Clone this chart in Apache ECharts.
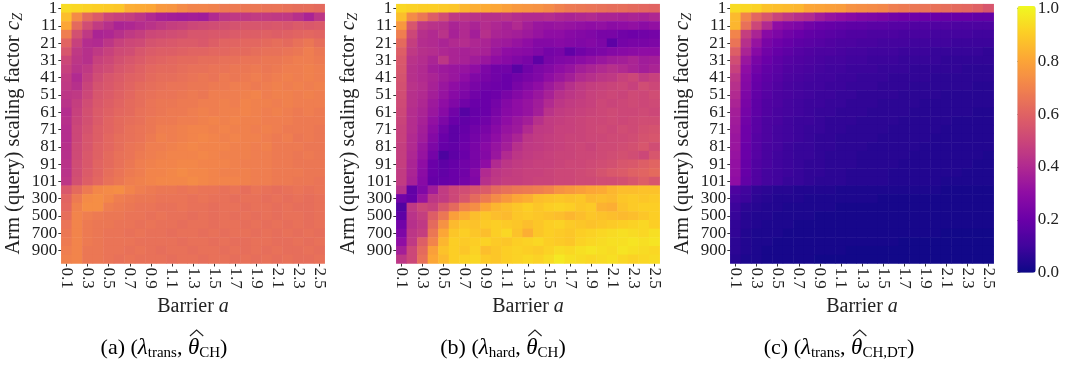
<!DOCTYPE html>
<html><head><meta charset="utf-8">
<script src="https://cdn.jsdelivr.net/npm/echarts@6/dist/echarts.min.js"></script>
<style>html,body{margin:0;padding:0;background:#fff}#c{width:1068px;height:370px}</style>
</head><body><div id="c"></div>
<script>
const barrierLabels = ['0.1','0.2','0.3','0.4','0.5','0.6','0.7','0.8','0.9','1.0','1.1','1.2','1.3','1.4','1.5','1.6','1.7','1.8','1.9','2.0','2.1','2.2','2.3','2.4','2.5'];
const armLabels = ['1','6','11','16','21','26','31','36','41','46','51','56','61','66','71','76','81','86','91','96','101','200','300','400','500','600','700','800','900','1000'];
const colorbarTicks = [0, 0.2, 0.4, 0.6, 0.8, 1.0];
const plasma = ['#0d0887','#41049d','#6a00a8','#8f0da4','#b12a90','#cc4778','#e16462','#f2844b','#fca636','#fcce25','#f0f921'];
const captionParts = [
  [['r','(a) ('],['m','λ'],['s','trans'],['r',', '],['h','θ'],['s','CH'],['r',')']],
  [['r','(b) ('],['m','λ'],['s','hard'],['r',', '],['h','θ'],['s','CH'],['r',')']],
  [['r','(c) ('],['m','λ'],['s','trans'],['r',', '],['h','θ'],['s','CH,DT'],['r',')']]
];

const panelA = [
[0.93,0.92,0.91,0.90,0.89,0.88,0.82,0.81,0.80,0.76,0.75,0.72,0.70,0.70,0.69,0.67,0.67,0.66,0.66,0.65,0.65,0.64,0.63,0.63,0.62],
[0.86,0.72,0.62,0.57,0.50,0.48,0.47,0.44,0.40,0.37,0.36,0.35,0.36,0.35,0.40,0.44,0.45,0.45,0.46,0.46,0.45,0.45,0.42,0.38,0.44],
[0.80,0.62,0.52,0.46,0.42,0.38,0.39,0.41,0.43,0.45,0.47,0.48,0.50,0.51,0.52,0.53,0.54,0.55,0.55,0.55,0.56,0.55,0.57,0.56,0.57],
[0.68,0.53,0.45,0.38,0.39,0.42,0.45,0.47,0.50,0.51,0.52,0.53,0.55,0.55,0.56,0.56,0.57,0.58,0.58,0.59,0.58,0.59,0.60,0.61,0.60],
[0.60,0.48,0.41,0.40,0.44,0.48,0.50,0.51,0.54,0.55,0.56,0.57,0.57,0.56,0.58,0.60,0.60,0.61,0.61,0.62,0.63,0.62,0.64,0.66,0.63],
[0.55,0.45,0.42,0.45,0.48,0.51,0.52,0.55,0.57,0.58,0.58,0.59,0.60,0.60,0.61,0.61,0.62,0.62,0.63,0.64,0.64,0.65,0.66,0.68,0.66],
[0.50,0.44,0.42,0.48,0.50,0.53,0.55,0.57,0.59,0.60,0.61,0.62,0.62,0.63,0.63,0.64,0.64,0.65,0.65,0.66,0.66,0.67,0.68,0.68,0.67],
[0.48,0.43,0.45,0.50,0.52,0.55,0.57,0.59,0.61,0.62,0.62,0.63,0.64,0.64,0.65,0.65,0.66,0.66,0.67,0.66,0.67,0.68,0.68,0.69,0.68],
[0.46,0.40,0.47,0.52,0.55,0.57,0.59,0.60,0.62,0.63,0.63,0.64,0.65,0.66,0.65,0.67,0.66,0.67,0.68,0.67,0.68,0.69,0.68,0.69,0.68],
[0.45,0.42,0.49,0.54,0.56,0.58,0.60,0.62,0.63,0.64,0.65,0.65,0.66,0.66,0.67,0.67,0.68,0.68,0.67,0.68,0.69,0.68,0.69,0.68,0.69],
[0.44,0.45,0.50,0.55,0.57,0.59,0.61,0.63,0.64,0.65,0.65,0.66,0.67,0.66,0.68,0.68,0.68,0.69,0.70,0.68,0.69,0.69,0.68,0.69,0.68],
[0.43,0.47,0.52,0.56,0.58,0.60,0.62,0.63,0.65,0.66,0.66,0.67,0.67,0.68,0.68,0.69,0.68,0.70,0.69,0.69,0.68,0.69,0.68,0.68,0.68],
[0.41,0.48,0.53,0.57,0.59,0.61,0.62,0.64,0.65,0.66,0.67,0.67,0.68,0.69,0.68,0.69,0.69,0.70,0.69,0.68,0.69,0.68,0.67,0.68,0.67],
[0.42,0.49,0.53,0.57,0.60,0.62,0.63,0.64,0.66,0.67,0.67,0.68,0.68,0.69,0.70,0.69,0.70,0.69,0.69,0.68,0.68,0.68,0.67,0.67,0.67],
[0.41,0.50,0.54,0.58,0.60,0.62,0.64,0.65,0.66,0.68,0.68,0.69,0.70,0.70,0.69,0.70,0.69,0.69,0.68,0.69,0.68,0.67,0.67,0.67,0.66],
[0.41,0.50,0.55,0.58,0.61,0.63,0.64,0.65,0.67,0.69,0.68,0.69,0.70,0.71,0.70,0.69,0.70,0.69,0.69,0.68,0.67,0.68,0.66,0.67,0.66],
[0.42,0.51,0.55,0.59,0.61,0.63,0.65,0.66,0.68,0.68,0.69,0.70,0.71,0.70,0.70,0.70,0.69,0.69,0.68,0.69,0.67,0.67,0.67,0.66,0.66],
[0.42,0.51,0.56,0.59,0.62,0.64,0.65,0.67,0.68,0.69,0.70,0.70,0.70,0.71,0.70,0.69,0.69,0.69,0.68,0.68,0.67,0.67,0.66,0.67,0.66],
[0.43,0.52,0.56,0.60,0.62,0.64,0.66,0.68,0.69,0.70,0.70,0.71,0.71,0.70,0.70,0.70,0.69,0.68,0.68,0.68,0.67,0.67,0.66,0.66,0.66],
[0.43,0.52,0.57,0.60,0.63,0.65,0.67,0.68,0.70,0.70,0.71,0.72,0.71,0.71,0.70,0.69,0.69,0.69,0.68,0.68,0.67,0.67,0.67,0.66,0.66],
[0.44,0.53,0.58,0.61,0.64,0.66,0.68,0.69,0.70,0.71,0.71,0.71,0.72,0.71,0.70,0.70,0.70,0.69,0.68,0.68,0.67,0.67,0.66,0.66,0.65],
[0.56,0.62,0.67,0.71,0.72,0.73,0.70,0.68,0.67,0.66,0.66,0.65,0.66,0.65,0.65,0.64,0.65,0.63,0.65,0.64,0.63,0.64,0.65,0.64,0.65],
[0.60,0.67,0.72,0.73,0.71,0.68,0.67,0.66,0.66,0.65,0.65,0.65,0.64,0.65,0.64,0.64,0.63,0.64,0.64,0.63,0.64,0.63,0.64,0.63,0.64],
[0.61,0.69,0.73,0.73,0.68,0.67,0.66,0.65,0.65,0.64,0.64,0.65,0.64,0.64,0.63,0.64,0.64,0.63,0.64,0.64,0.63,0.64,0.63,0.63,0.64],
[0.63,0.70,0.68,0.67,0.66,0.66,0.65,0.65,0.64,0.65,0.64,0.64,0.63,0.64,0.63,0.64,0.63,0.64,0.63,0.64,0.63,0.64,0.64,0.63,0.64],
[0.65,0.70,0.67,0.66,0.66,0.65,0.65,0.64,0.65,0.64,0.64,0.63,0.64,0.64,0.63,0.64,0.64,0.63,0.64,0.63,0.64,0.63,0.64,0.63,0.64],
[0.66,0.70,0.67,0.66,0.65,0.65,0.64,0.65,0.64,0.64,0.63,0.64,0.64,0.63,0.64,0.63,0.64,0.64,0.63,0.64,0.63,0.64,0.63,0.64,0.63],
[0.67,0.70,0.67,0.66,0.65,0.65,0.65,0.64,0.64,0.64,0.64,0.63,0.64,0.64,0.63,0.64,0.63,0.63,0.64,0.64,0.63,0.63,0.64,0.63,0.64],
[0.68,0.70,0.66,0.66,0.65,0.65,0.64,0.65,0.64,0.63,0.64,0.64,0.63,0.64,0.64,0.63,0.64,0.63,0.64,0.63,0.64,0.63,0.63,0.64,0.63],
[0.69,0.70,0.66,0.66,0.65,0.64,0.65,0.64,0.64,0.64,0.63,0.64,0.64,0.63,0.64,0.64,0.63,0.64,0.63,0.64,0.63,0.64,0.63,0.63,0.64]
];

const panelB = [
[0.92,0.91,0.90,0.90,0.89,0.88,0.84,0.82,0.81,0.80,0.78,0.76,0.75,0.74,0.72,0.69,0.67,0.66,0.65,0.64,0.63,0.63,0.62,0.61,0.60],
[0.86,0.72,0.66,0.58,0.52,0.45,0.44,0.43,0.42,0.42,0.43,0.41,0.40,0.40,0.41,0.39,0.38,0.39,0.40,0.38,0.38,0.37,0.38,0.37,0.39],
[0.76,0.55,0.45,0.43,0.42,0.38,0.40,0.38,0.41,0.39,0.37,0.40,0.36,0.33,0.32,0.33,0.32,0.31,0.30,0.31,0.29,0.30,0.31,0.29,0.31],
[0.68,0.50,0.42,0.40,0.43,0.37,0.40,0.36,0.42,0.38,0.37,0.36,0.34,0.32,0.30,0.30,0.28,0.27,0.26,0.24,0.24,0.22,0.21,0.22,0.23],
[0.62,0.47,0.41,0.40,0.38,0.40,0.41,0.39,0.38,0.35,0.34,0.32,0.30,0.27,0.27,0.28,0.27,0.26,0.27,0.25,0.17,0.23,0.24,0.24,0.25],
[0.58,0.45,0.42,0.41,0.39,0.38,0.37,0.38,0.37,0.33,0.30,0.29,0.28,0.26,0.23,0.24,0.18,0.22,0.24,0.25,0.27,0.28,0.29,0.30,0.30],
[0.56,0.43,0.41,0.38,0.44,0.38,0.37,0.35,0.33,0.30,0.28,0.26,0.24,0.17,0.24,0.26,0.27,0.29,0.31,0.33,0.35,0.36,0.38,0.35,0.36],
[0.55,0.42,0.40,0.36,0.34,0.33,0.32,0.30,0.25,0.22,0.22,0.16,0.22,0.25,0.27,0.30,0.32,0.36,0.38,0.40,0.42,0.40,0.38,0.36,0.38],
[0.54,0.42,0.40,0.38,0.35,0.33,0.30,0.26,0.24,0.22,0.20,0.22,0.24,0.26,0.30,0.33,0.36,0.40,0.42,0.44,0.45,0.48,0.50,0.46,0.48],
[0.53,0.43,0.41,0.37,0.33,0.30,0.27,0.24,0.22,0.21,0.20,0.24,0.27,0.30,0.34,0.38,0.42,0.45,0.47,0.48,0.49,0.50,0.48,0.52,0.50],
[0.52,0.42,0.40,0.36,0.32,0.28,0.25,0.22,0.20,0.21,0.24,0.27,0.30,0.33,0.37,0.42,0.44,0.46,0.48,0.49,0.50,0.49,0.51,0.50,0.52],
[0.51,0.42,0.39,0.34,0.30,0.26,0.22,0.20,0.20,0.23,0.27,0.30,0.32,0.35,0.40,0.44,0.46,0.47,0.48,0.50,0.49,0.50,0.51,0.50,0.51],
[0.50,0.41,0.38,0.33,0.28,0.22,0.15,0.19,0.20,0.24,0.28,0.30,0.32,0.36,0.43,0.46,0.47,0.48,0.49,0.50,0.51,0.50,0.50,0.51,0.50],
[0.49,0.41,0.37,0.31,0.25,0.20,0.18,0.20,0.22,0.26,0.30,0.33,0.36,0.42,0.46,0.47,0.48,0.49,0.50,0.50,0.51,0.50,0.51,0.52,0.52],
[0.48,0.41,0.36,0.29,0.22,0.17,0.19,0.22,0.24,0.28,0.32,0.34,0.40,0.45,0.46,0.48,0.48,0.49,0.50,0.51,0.50,0.52,0.51,0.53,0.54],
[0.48,0.40,0.35,0.27,0.20,0.17,0.20,0.23,0.26,0.30,0.34,0.38,0.44,0.46,0.47,0.48,0.49,0.49,0.50,0.50,0.51,0.51,0.52,0.54,0.55],
[0.47,0.40,0.33,0.25,0.19,0.18,0.21,0.24,0.28,0.32,0.36,0.42,0.45,0.46,0.47,0.48,0.49,0.50,0.49,0.51,0.51,0.52,0.53,0.55,0.52],
[0.47,0.39,0.32,0.23,0.13,0.17,0.20,0.24,0.27,0.33,0.40,0.44,0.46,0.47,0.48,0.49,0.49,0.50,0.50,0.51,0.52,0.53,0.52,0.50,0.55],
[0.47,0.38,0.30,0.20,0.17,0.19,0.22,0.24,0.30,0.40,0.44,0.46,0.47,0.48,0.48,0.49,0.50,0.50,0.51,0.52,0.53,0.55,0.56,0.58,0.60],
[0.46,0.38,0.29,0.20,0.18,0.20,0.22,0.27,0.40,0.44,0.46,0.47,0.48,0.48,0.49,0.50,0.50,0.51,0.52,0.54,0.56,0.57,0.59,0.60,0.62],
[0.46,0.37,0.28,0.19,0.19,0.20,0.23,0.26,0.42,0.45,0.47,0.47,0.48,0.49,0.49,0.50,0.50,0.51,0.51,0.52,0.52,0.53,0.55,0.58,0.55],
[0.42,0.18,0.26,0.35,0.46,0.50,0.52,0.55,0.57,0.62,0.64,0.66,0.67,0.68,0.70,0.74,0.76,0.78,0.80,0.81,0.84,0.86,0.86,0.87,0.87],
[0.22,0.19,0.32,0.44,0.46,0.50,0.55,0.62,0.67,0.72,0.76,0.80,0.82,0.86,0.87,0.88,0.87,0.88,0.85,0.86,0.85,0.88,0.89,0.88,0.89],
[0.14,0.45,0.50,0.48,0.56,0.62,0.70,0.73,0.80,0.84,0.86,0.88,0.90,0.88,0.90,0.91,0.90,0.88,0.89,0.83,0.82,0.87,0.89,0.90,0.90],
[0.17,0.43,0.47,0.58,0.66,0.78,0.82,0.86,0.88,0.86,0.85,0.88,0.89,0.88,0.87,0.86,0.84,0.86,0.88,0.87,0.86,0.85,0.86,0.88,0.90],
[0.22,0.42,0.45,0.62,0.74,0.85,0.88,0.87,0.89,0.90,0.89,0.88,0.86,0.88,0.90,0.91,0.89,0.88,0.87,0.88,0.89,0.90,0.91,0.92,0.90],
[0.25,0.44,0.47,0.66,0.80,0.88,0.90,0.88,0.86,0.90,0.92,0.87,0.82,0.88,0.90,0.89,0.88,0.90,0.91,0.92,0.93,0.94,0.93,0.92,0.94],
[0.30,0.45,0.58,0.70,0.84,0.90,0.89,0.90,0.91,0.89,0.88,0.90,0.91,0.92,0.90,0.89,0.88,0.91,0.92,0.93,0.94,0.94,0.95,0.94,0.95],
[0.36,0.50,0.62,0.78,0.87,0.90,0.88,0.91,0.86,0.88,0.90,0.91,0.90,0.89,0.91,0.93,0.92,0.94,0.95,0.94,0.93,0.95,0.94,0.93,0.92],
[0.44,0.50,0.64,0.80,0.85,0.90,0.91,0.92,0.89,0.88,0.90,0.91,0.92,0.91,0.93,0.96,0.94,0.93,0.92,0.93,0.94,0.92,0.91,0.92,0.93]
];

const panelC = [
[0.93,0.92,0.91,0.87,0.86,0.85,0.84,0.80,0.79,0.78,0.77,0.74,0.73,0.72,0.71,0.68,0.67,0.66,0.65,0.64,0.63,0.62,0.61,0.59,0.55],
[0.85,0.70,0.61,0.55,0.49,0.45,0.42,0.40,0.35,0.32,0.30,0.28,0.26,0.25,0.24,0.22,0.21,0.21,0.20,0.20,0.19,0.19,0.19,0.18,0.18],
[0.84,0.64,0.50,0.40,0.30,0.27,0.25,0.22,0.20,0.19,0.18,0.17,0.17,0.16,0.16,0.15,0.15,0.14,0.14,0.14,0.14,0.13,0.13,0.13,0.13],
[0.70,0.47,0.38,0.28,0.25,0.22,0.20,0.18,0.17,0.16,0.15,0.14,0.14,0.13,0.13,0.13,0.12,0.12,0.12,0.11,0.11,0.11,0.11,0.10,0.10],
[0.65,0.42,0.32,0.24,0.21,0.19,0.17,0.16,0.15,0.14,0.13,0.13,0.12,0.12,0.11,0.11,0.11,0.10,0.10,0.10,0.10,0.09,0.09,0.09,0.09],
[0.58,0.38,0.28,0.22,0.19,0.17,0.15,0.14,0.13,0.13,0.12,0.11,0.11,0.10,0.10,0.10,0.09,0.09,0.09,0.08,0.08,0.08,0.08,0.08,0.07],
[0.52,0.33,0.24,0.20,0.17,0.15,0.14,0.13,0.12,0.11,0.11,0.10,0.10,0.09,0.09,0.09,0.08,0.08,0.08,0.08,0.07,0.07,0.07,0.07,0.07],
[0.48,0.30,0.22,0.18,0.16,0.14,0.13,0.12,0.11,0.10,0.10,0.09,0.09,0.09,0.08,0.08,0.08,0.07,0.07,0.07,0.07,0.07,0.06,0.06,0.06],
[0.44,0.28,0.20,0.17,0.15,0.13,0.12,0.11,0.10,0.10,0.09,0.09,0.08,0.08,0.08,0.07,0.07,0.07,0.07,0.06,0.06,0.06,0.06,0.06,0.06],
[0.42,0.27,0.19,0.16,0.14,0.12,0.11,0.10,0.10,0.09,0.09,0.08,0.08,0.08,0.07,0.07,0.07,0.06,0.06,0.06,0.06,0.06,0.06,0.05,0.05],
[0.40,0.25,0.18,0.15,0.13,0.12,0.11,0.10,0.09,0.09,0.08,0.08,0.07,0.07,0.07,0.07,0.06,0.06,0.06,0.06,0.05,0.05,0.05,0.05,0.05],
[0.38,0.24,0.17,0.14,0.13,0.11,0.10,0.09,0.09,0.08,0.08,0.07,0.07,0.07,0.06,0.06,0.06,0.06,0.05,0.05,0.05,0.05,0.05,0.05,0.05],
[0.36,0.23,0.17,0.14,0.12,0.11,0.10,0.09,0.08,0.08,0.07,0.07,0.07,0.06,0.06,0.06,0.06,0.05,0.05,0.05,0.05,0.05,0.05,0.04,0.04],
[0.35,0.22,0.16,0.13,0.12,0.10,0.09,0.09,0.08,0.07,0.07,0.07,0.06,0.06,0.06,0.06,0.05,0.05,0.05,0.05,0.05,0.04,0.04,0.04,0.04],
[0.34,0.21,0.16,0.13,0.11,0.10,0.09,0.08,0.08,0.07,0.07,0.06,0.06,0.06,0.06,0.05,0.05,0.05,0.05,0.05,0.04,0.04,0.04,0.04,0.04],
[0.33,0.21,0.15,0.13,0.11,0.10,0.09,0.08,0.07,0.07,0.06,0.06,0.06,0.06,0.05,0.05,0.05,0.05,0.05,0.04,0.04,0.04,0.04,0.04,0.04],
[0.33,0.20,0.15,0.12,0.11,0.09,0.08,0.08,0.07,0.07,0.06,0.06,0.06,0.05,0.05,0.05,0.05,0.05,0.04,0.04,0.04,0.04,0.04,0.04,0.04],
[0.32,0.20,0.15,0.12,0.10,0.09,0.08,0.08,0.07,0.06,0.06,0.06,0.05,0.05,0.05,0.05,0.05,0.04,0.04,0.04,0.04,0.04,0.04,0.04,0.03],
[0.31,0.19,0.14,0.12,0.10,0.09,0.08,0.07,0.07,0.06,0.06,0.06,0.05,0.05,0.05,0.05,0.04,0.04,0.04,0.04,0.04,0.04,0.04,0.03,0.03],
[0.31,0.19,0.14,0.11,0.10,0.09,0.08,0.07,0.07,0.06,0.06,0.05,0.05,0.05,0.05,0.04,0.04,0.04,0.04,0.04,0.04,0.04,0.03,0.03,0.03],
[0.30,0.18,0.14,0.11,0.10,0.08,0.08,0.07,0.06,0.06,0.06,0.05,0.05,0.05,0.05,0.04,0.04,0.04,0.04,0.04,0.03,0.03,0.03,0.03,0.03],
[0.13,0.10,0.07,0.06,0.05,0.05,0.04,0.04,0.04,0.04,0.03,0.03,0.03,0.03,0.03,0.03,0.03,0.03,0.03,0.03,0.02,0.02,0.02,0.02,0.02],
[0.11,0.09,0.06,0.05,0.04,0.04,0.04,0.03,0.03,0.03,0.03,0.03,0.03,0.03,0.02,0.02,0.02,0.02,0.02,0.02,0.02,0.02,0.02,0.02,0.02],
[0.09,0.06,0.05,0.04,0.04,0.03,0.03,0.03,0.03,0.03,0.02,0.02,0.02,0.02,0.02,0.02,0.02,0.02,0.02,0.02,0.02,0.02,0.02,0.02,0.02],
[0.08,0.05,0.04,0.04,0.03,0.03,0.03,0.03,0.02,0.02,0.02,0.02,0.02,0.02,0.02,0.02,0.02,0.02,0.02,0.02,0.02,0.02,0.02,0.02,0.02],
[0.07,0.05,0.04,0.03,0.03,0.03,0.02,0.02,0.02,0.02,0.02,0.02,0.02,0.02,0.02,0.02,0.02,0.02,0.02,0.02,0.02,0.02,0.02,0.02,0.02],
[0.07,0.04,0.03,0.03,0.03,0.02,0.02,0.02,0.02,0.02,0.02,0.02,0.02,0.02,0.02,0.02,0.02,0.02,0.02,0.02,0.01,0.01,0.01,0.01,0.01],
[0.06,0.04,0.03,0.03,0.02,0.02,0.02,0.02,0.02,0.02,0.02,0.02,0.02,0.02,0.02,0.02,0.01,0.01,0.01,0.01,0.01,0.01,0.01,0.01,0.01],
[0.06,0.04,0.03,0.02,0.02,0.02,0.02,0.02,0.02,0.02,0.02,0.01,0.01,0.01,0.01,0.01,0.01,0.01,0.01,0.01,0.01,0.01,0.01,0.01,0.01],
[0.05,0.03,0.03,0.02,0.02,0.02,0.02,0.02,0.01,0.01,0.01,0.01,0.01,0.01,0.01,0.01,0.01,0.01,0.01,0.01,0.01,0.01,0.01,0.01,0.01]
];

const panels = [panelA, panelB, panelC];
const FONTNAME = 'Liberation Serif';
const FONT = '"Liberation Serif", "DejaVu Serif", serif';
const TXT = '#222';
const gridLefts = [61.3, 396.3, 730.3];
const gridTop = 2, gridW = 263.4, gridH = 261.5;

function toCells(m) {
  const out = [];
  m.forEach((row, yi) => row.forEach((v, xi) => out.push([xi, yi, v])));
  return out;
}

const grids = gridLefts.map(l => ({left: l, top: gridTop, width: gridW, height: gridH}));
grids.push({left: 1017.3, top: 6, width: 18.4, height: 266.7});

const xAxes = gridLefts.map((l, i) => ({
  type: 'category', gridIndex: i, data: barrierLabels,
  axisLine: {show: false},
  axisTick: {show: true, interval: 1, alignWithLabel: true, length: 3, lineStyle: {color: '#333'}},
  axisLabel: {interval: 1, rotate: -90, fontFamily: FONT, fontSize: 17, color: TXT, margin: 4},
  splitLine: {show: false},
  name: '{t|Barrier }{i|a}', nameLocation: 'middle', nameGap: 30,
  nameTextStyle: {rich: {
    t: {fontFamily: FONT, fontSize: 20, color: TXT},
    i: {fontFamily: FONT, fontSize: 20, fontStyle: 'italic', color: TXT}
  }}
}));
xAxes.push({type: 'value', gridIndex: 3, show: false, min: 0, max: 1});

const yAxes = gridLefts.map((l, i) => ({
  type: 'category', gridIndex: i, data: armLabels, inverse: true,
  axisLine: {show: false},
  axisTick: {show: true, interval: 1, alignWithLabel: true, length: 3, lineStyle: {color: '#333'}},
  axisLabel: {interval: 1, fontFamily: FONT, fontSize: 17, color: TXT, margin: 4},
  splitLine: {show: false},
  name: '{t|Arm (query) scaling factor }{i|c}{s|Z}', nameLocation: 'middle', nameGap: 36, nameRotate: 90,
  nameTextStyle: {rich: {
    t: {fontFamily: FONT, fontSize: 20.5, color: TXT, lineHeight: 24},
    i: {fontFamily: FONT, fontSize: 21.5, fontStyle: 'italic', color: TXT, lineHeight: 24},
    s: {fontFamily: FONT, fontSize: 14, fontStyle: 'italic', color: TXT, lineHeight: 14, verticalAlign: 'bottom'}
  }}
}));
yAxes.push({
  type: 'value', gridIndex: 3, min: 0, max: 1, interval: 0.2, position: 'right',
  axisLine: {show: false},
  axisTick: {show: true, length: 3, lineStyle: {color: '#333'}},
  axisLabel: {fontFamily: FONT, fontSize: 17, color: TXT, margin: 2, formatter: v => v.toFixed(1)},
  splitLine: {show: false}
});

const series = panels.map((m, i) => ({
  type: 'heatmap', xAxisIndex: i, yAxisIndex: i, data: toCells(m),
  progressive: 0, itemStyle: {borderWidth: 0}, emphasis: {disabled: true}
}));

const tokenFonts = {
  r: {size: 22, style: 'normal'},
  m: {size: 23, style: 'italic'},
  h: {size: 23, style: 'italic'},
  s: {size: 15, style: 'normal'}
};
const captionStyle = {};
Object.keys(tokenFonts).forEach(k => {
  const f = tokenFonts[k];
  captionStyle[k] = k === 's'
    ? {fontFamily: FONT, fontSize: f.size, color: TXT, lineHeight: f.size, verticalAlign: 'bottom'}
    : {fontFamily: FONT, fontSize: f.size, fontStyle: f.style, color: TXT, lineHeight: 26};
});
const captionX = [164, 503, 839];
const captionY = 348;

const measureCtx = document.createElement('canvas').getContext('2d');
function tokenWidth(k, t) {
  const f = tokenFonts[k];
  measureCtx.font = f.style + ' ' + f.size + 'px "' + FONTNAME + '"';
  return measureCtx.measureText(t).width;
}

const graphics = [];
captionParts.forEach((parts, i) => {
  const text = parts.map(p => '{' + p[0] + '|' + p[1] + '}').join('');
  const widths = parts.map(p => tokenWidth(p[0], p[1]));
  const total = widths.reduce((a, b) => a + b, 0);
  let x = captionX[i] - total / 2;
  let hatX0 = 0, hatX1 = 0;
  parts.forEach((p, j) => {
    if (p[0] === 'h') { hatX0 = x; hatX1 = x + widths[j]; }
    x += widths[j];
  });
  graphics.push({
    type: 'text', x: captionX[i], y: captionY,
    style: {text: text, rich: captionStyle, align: 'center', verticalAlign: 'middle'}
  });
  const shift = 2.5;
  graphics.push({
    type: 'polyline',
    shape: {points: [[hatX0 + shift - 0.5, captionY - 12], [(hatX0 + hatX1) / 2 + shift + 0.5, captionY - 18], [hatX1 + shift + 1.5, captionY - 12]]},
    style: {stroke: TXT, lineWidth: 1.1, fill: null}
  });
});

const chart = echarts.init(document.getElementById('c'), null, {renderer: 'canvas'});
chart.setOption({
  animation: false,
  backgroundColor: '#fff',
  grid: grids,
  xAxis: xAxes,
  yAxis: yAxes,
  visualMap: {
    type: 'continuous', min: 0, max: 1, seriesIndex: [0, 1, 2],
    inRange: {color: plasma}, calculable: false, showLabel: false,
    left: 1017.3, top: 6, itemWidth: 18.4, itemHeight: 266.7, padding: 0, text: null
  },
  series: series,
  graphic: graphics
});
</script>
</body></html>
